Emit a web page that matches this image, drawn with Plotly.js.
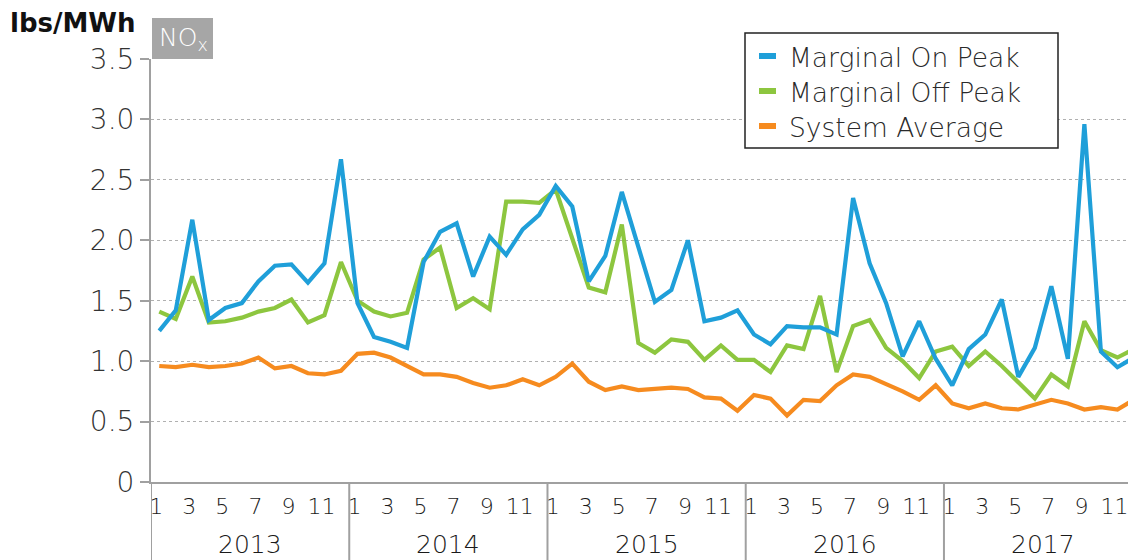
<!DOCTYPE html>
<html>
<head>
<meta charset="utf-8">
<script src="https://cdn.plot.ly/plotly-3.0.1.min.js"></script>
<style>
html,body{margin:0;padding:0;background:#fff;}
#chart{width:1128px;height:560px;}
</style>
</head>
<body>
<div id="chart"></div>
<script>
const years = ['2013', '2014', '2015', '2016', '2017'];
const months = [1, 2, 3, 4, 5, 6, 7, 8, 9, 10, 11, 12];
const monthLabels = ['1', '', '3', '', '5', '', '7', '', '9', '', '11', ''];
const seriesNames = ['Marginal On Peak', 'Marginal Off Peak', 'System Average'];
const seriesColors = ['#1f9fd9', '#8dc63f', '#f68b1f'];

const onPeak = [
  1.25, 1.42, 2.17, 1.34, 1.44, 1.48, 1.66, 1.79, 1.80, 1.65, 1.81, 2.67,
  1.48, 1.20, 1.16, 1.11, 1.82, 2.07, 2.14, 1.70, 2.03, 1.88, 2.09, 2.21,
  2.45, 2.28, 1.66, 1.87, 2.40, 1.95, 1.49, 1.59, 2.00, 1.33, 1.36, 1.42,
  1.22, 1.14, 1.29, 1.28, 1.28, 1.22, 2.35, 1.81, 1.48, 1.04, 1.33, 1.02,
  0.80, 1.10, 1.22, 1.51, 0.87, 1.11, 1.62, 1.02, 2.96, 1.08, 0.95, 1.03
];
const offPeak = [
  1.41, 1.35, 1.70, 1.32, 1.33, 1.36, 1.41, 1.44, 1.51, 1.32, 1.38, 1.82,
  1.50, 1.41, 1.37, 1.40, 1.84, 1.94, 1.44, 1.52, 1.43, 2.32, 2.32, 2.31,
  2.42, 2.02, 1.61, 1.57, 2.13, 1.15, 1.07, 1.18, 1.16, 1.01, 1.13, 1.01,
  1.01, 0.91, 1.13, 1.10, 1.54, 0.91, 1.29, 1.34, 1.11, 1.00, 0.86, 1.08,
  1.12, 0.96, 1.08, 0.96, 0.83, 0.69, 0.89, 0.79, 1.33, 1.09, 1.03, 1.10
];
const systemAvg = [
  0.96, 0.95, 0.97, 0.95, 0.96, 0.98, 1.03, 0.94, 0.96, 0.90, 0.89, 0.92,
  1.06, 1.07, 1.03, 0.96, 0.89, 0.89, 0.87, 0.82, 0.78, 0.80, 0.85, 0.80,
  0.87, 0.98, 0.83, 0.76, 0.79, 0.76, 0.77, 0.78, 0.77, 0.70, 0.69, 0.59,
  0.72, 0.69, 0.55, 0.68, 0.67, 0.80, 0.89, 0.87, 0.81, 0.75, 0.68, 0.80,
  0.65, 0.61, 0.65, 0.61, 0.60, 0.64, 0.68, 0.65, 0.60, 0.62, 0.60, 0.68
];
const yTickVals = [0, 0.5, 1.0, 1.5, 2.0, 2.5, 3.0, 3.5];
const yTickText = ['0', '0.5', '1.0', '1.5', '2.0', '2.5', '3.0', '3.5'];
const unitLabel = 'lbs/MWh';
const pollutantLabel = 'NO<sub>x</sub>';

const xIdx = [];
years.forEach((y, yi) => months.forEach((m, mi) => xIdx.push(yi * 12 + mi)));

const tickVals = [], tickText = [];
years.forEach((y, yi) => months.forEach((m, mi) => {
  if (monthLabels[mi] !== '') { tickVals.push(yi * 12 + mi); tickText.push(monthLabels[mi]); }
}));

const FONT = '"DejaVu Sans", sans-serif';
const LIGHT = 200;
const allSeries = [onPeak, offPeak, systemAvg];
const traces = allSeries.map((vals, i) => ({
  x: xIdx, y: vals, type: 'scatter', mode: 'lines', name: seriesNames[i],
  line: {color: seriesColors[i], width: 4.2, shape: 'linear'},
  showlegend: false, hoverinfo: 'skip'
}));
traces.reverse();

const L = 151, T = 59, B = 78, W = 1128, H = 560;
const pw = W - L, ph = H - T - B;
const px = x => (x - L) / pw;
const py = y => (H - B - y) / ph;

const shapes = [];
const annotations = [];
years.forEach((y, yi) => {
  shapes.push({type: 'line', xref: 'x', yref: 'paper', x0: yi * 12 - 0.5, x1: yi * 12 - 0.5,
    y0: 0, y1: py(H), line: {color: '#a0a0a0', width: 2}});
  annotations.push({xref: 'x', yref: 'paper', x: yi * 12 + 5.5, y: py(544), text: y,
    showarrow: false, xanchor: 'center', yanchor: 'middle',
    font: {family: FONT, size: 25, color: '#1a1a1a', weight: LIGHT}});
});
shapes.push({type: 'rect', xref: 'paper', yref: 'paper', x0: px(745), x1: px(1058), y0: py(148), y1: py(33),
  line: {color: '#222', width: 1.5}, fillcolor: 'rgba(255,255,255,1)', layer: 'above'});
const legY = [56, 91, 126];
seriesNames.forEach((n, i) => {
  shapes.push({type: 'line', xref: 'paper', yref: 'paper', x0: px(759), x1: px(776), y0: py(legY[i]), y1: py(legY[i]),
    line: {color: seriesColors[i], width: 6}, layer: 'above'});
  annotations.push({xref: 'paper', yref: 'paper', x: px(787), y: py(legY[i] + 1), text: n, showarrow: false,
    xanchor: 'left', yanchor: 'middle', font: {family: FONT, size: 26.5, color: '#2a2a2a', weight: LIGHT}});
});
shapes.push({type: 'rect', xref: 'paper', yref: 'paper', x0: px(152), x1: px(213), y0: py(59), y1: py(18),
  line: {width: 0}, fillcolor: '#a6a6a6'});
annotations.push({xref: 'paper', yref: 'paper', x: px(157), y: py(39), text: pollutantLabel, showarrow: false,
  xanchor: 'left', yanchor: 'middle', font: {family: FONT, size: 25, color: '#ffffff', weight: LIGHT}});
annotations.push({xref: 'paper', yref: 'paper', x: px(8), y: py(23), text: unitLabel, showarrow: false,
  xanchor: 'left', yanchor: 'middle', font: {family: FONT, size: 26, color: '#111', weight: 700}});

const layout = {
  width: W, height: H,
  margin: {l: L, r: 0, t: T, b: B, pad: 0},
  paper_bgcolor: '#fff', plot_bgcolor: '#fff',
  showlegend: false,
  xaxis: {
    range: [-0.5, -0.5 + pw / 16.52], tickmode: 'array', tickvals: tickVals, ticktext: tickText,
    showgrid: false, zeroline: false, showline: true, linecolor: '#a0a0a0', linewidth: 2,
    ticks: '', ticklabeloverflow: 'allow', ticklabelstandoff: 4, ticklabelshift: -3,
    tickfont: {family: FONT, size: 22, color: '#1a1a1a', weight: LIGHT},
    fixedrange: true
  },
  yaxis: {
    range: [0, 3.5], tickmode: 'array', tickvals: yTickVals, ticktext: yTickText,
    showgrid: true, gridcolor: '#b0b0b0', griddash: 'dot', gridwidth: 1,
    zeroline: false, showline: true, linecolor: '#a0a0a0', linewidth: 2,
    ticks: 'outside', ticklen: 9, tickwidth: 2, tickcolor: '#a0a0a0',
    tickfont: {family: FONT, size: 28, color: '#333', weight: LIGHT},
    fixedrange: true
  },
  shapes: shapes, annotations: annotations
};

Plotly.newPlot('chart', traces, layout, {displayModeBar: false, staticPlot: true});
</script>
</body>
</html>
